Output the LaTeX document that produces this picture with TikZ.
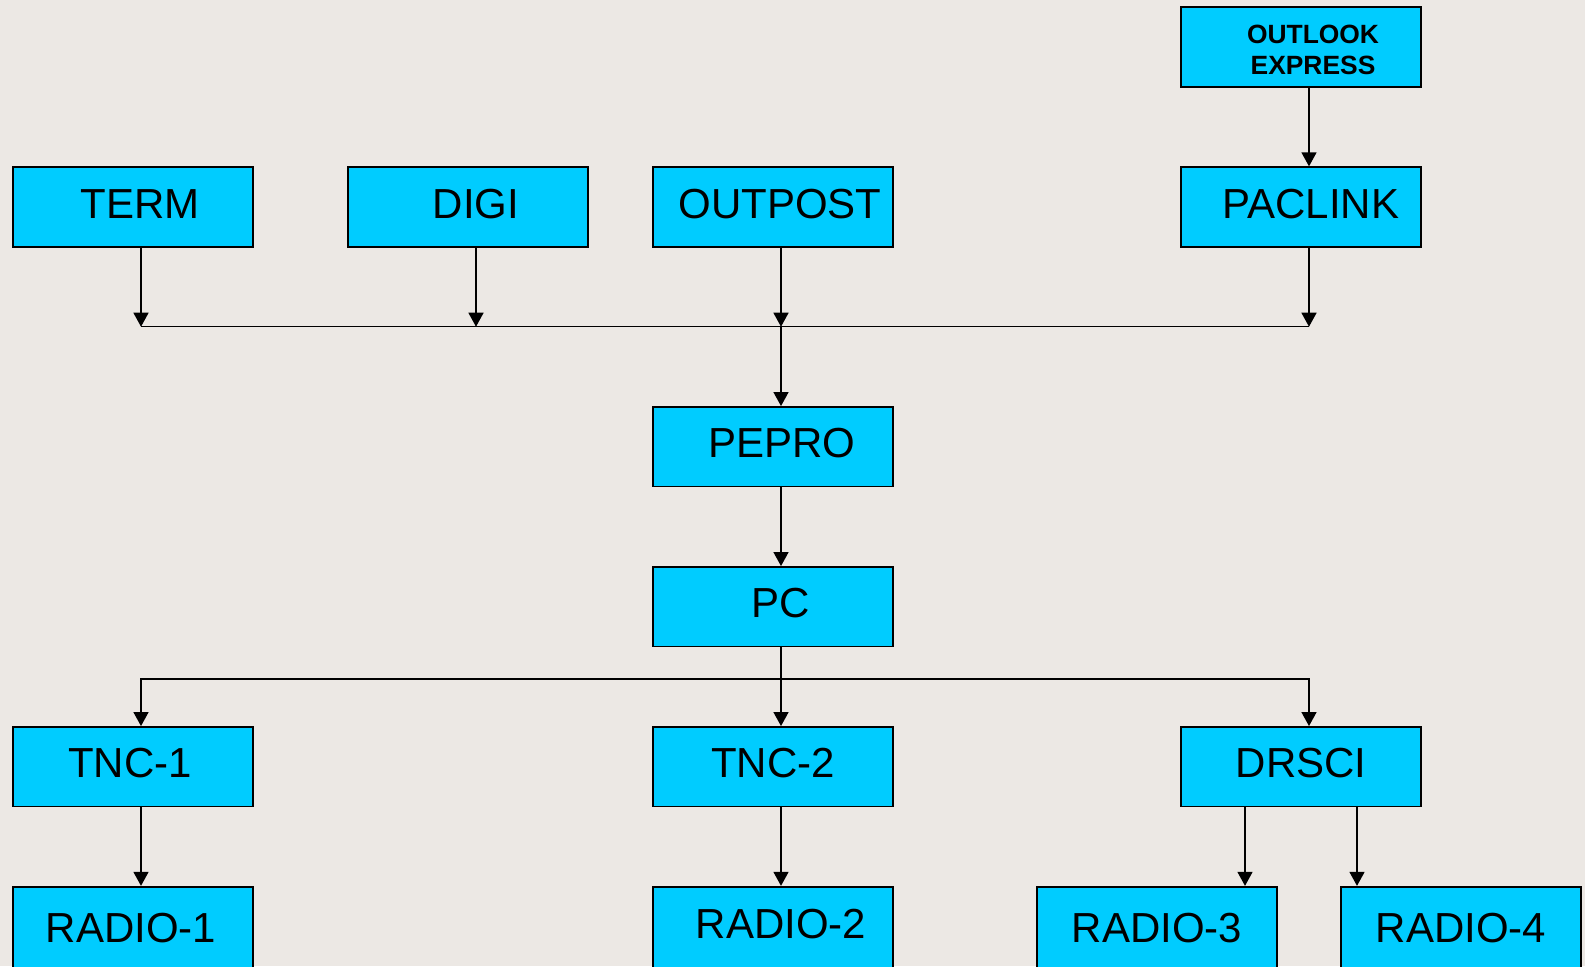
\documentclass[tikz,border=0pt]{standalone}
\usepackage{fontspec}
\setmainfont{Liberation Sans}
\usetikzlibrary{arrows.meta,calc}
\definecolor{bg}{RGB}{236,232,228}
\definecolor{boxfill}{RGB}{0,204,255}
\begin{document}
\begin{tikzpicture}[x=0.5pt,y=-0.5pt,
  box/.style={draw=black, line width=0.85pt, fill=boxfill, minimum width=119.8pt, minimum height=39.8pt, inner sep=2pt, font=\fontsize{21pt}{25pt}\selectfont, text height=15pt, text depth=4pt},
  tallbox/.style={box, minimum height=43pt, text height=15pt, text depth=2pt},
  arr/.style={line width=0.7pt, -{Triangle[length=7pt,width=7.5pt]}},
  conn/.style={line width=0.7pt}]
\fill[bg] (0,0) rectangle (1585,966);
\useasboundingbox (0,0) rectangle (1585,966);
\clip (0,0) rectangle (1585,966);

\node[box, text height=28pt, text depth=1pt] (outlook) at (1301,47) {\hspace*{12pt}\parbox[b]{90pt}{\setlength\parindent{0pt}\fontsize{13.2pt}{15.5pt}\selectfont\bfseries\centering OUTLOOK\\EXPRESS}};

\node[box] (term) at (133,207) {\hspace*{7pt}TERM};
\node[box] (digi) at (468,207) {\hspace*{8pt}DIGI};
\node[box] (outpost) at (773,207) {\hspace*{7pt}OUTPOST};
\node[box] (paclink) at (1301,207) {\hspace*{10pt}PACLINK};
\node[box] (pepro) at (773,446.7) {\hspace*{9pt}PEPRO};
\node[box] (pc) at (773,606.7) {\hspace*{8pt}PC};
\node[box] (tnc1) at (133,766.7) {\hspace*{-3pt}TNC-1};
\node[box] (tnc2) at (773,766.7) {TNC-2};
\node[box] (drsci) at (1301,766.7) {DRSCI};
\node[tallbox] (radio1) at (133,929.7) {\hspace*{-2pt}RADIO-1};
\node[tallbox, text depth=6.2pt] (radio2) at (773,929.7) {\hspace*{8pt}RADIO-2};
\node[tallbox] (radio3) at (1157,929.7) {RADIO-3};
\node[tallbox] (radio4) at (1461,929.7) {RADIO-4};

\coordinate (bus1) at (0,326.7);
\coordinate (bus2) at (0,679);
\coordinate (aTerm) at ([xshift=4pt]term.south);
\coordinate (aDigi) at ([xshift=4pt]digi.south);
\coordinate (aOut) at ([xshift=4pt]outpost.south);
\coordinate (aPac) at ([xshift=4pt]paclink.south);
\coordinate (aPC) at ([xshift=4pt]pc.south);
\coordinate (tT1) at ([xshift=4pt]tnc1.north);
\coordinate (tDR) at ([xshift=4pt]drsci.north);
\coordinate (d3) at ([xshift=-28pt]drsci.south);
\coordinate (d4) at ([xshift=28pt]drsci.south);

\draw[arr] ([xshift=4pt]outlook.south) -- ([xshift=4pt]paclink.north);
\draw[conn] (aTerm |- bus1) -- (aPac |- bus1);
\draw[arr] (aTerm) -- (aTerm |- bus1);
\draw[arr] (aDigi) -- (aDigi |- bus1);
\draw[arr] (aOut) -- (aOut |- bus1);
\draw[arr] (aPac) -- (aPac |- bus1);
\draw[arr] (aOut |- bus1) -- ([xshift=4pt]pepro.north);
\draw[arr] ([xshift=4pt]pepro.south) -- ([xshift=4pt]pc.north);
\draw[arr] (aPC) -- ([xshift=4pt]tnc2.north);
\draw[arr] (aPC |- bus2) -- (tT1 |- bus2) -- (tT1);
\draw[arr] (aPC |- bus2) -- (tDR |- bus2) -- (tDR);
\draw[arr] ([xshift=4pt]tnc1.south) -- ([xshift=4pt]radio1.north);
\draw[arr] ([xshift=4pt]tnc2.south) -- ([xshift=4pt]radio2.north);
\draw[arr] (d3) -- (d3 |- radio3.north);
\draw[arr] (d4) -- (d4 |- radio4.north);
\end{tikzpicture}
\end{document}
